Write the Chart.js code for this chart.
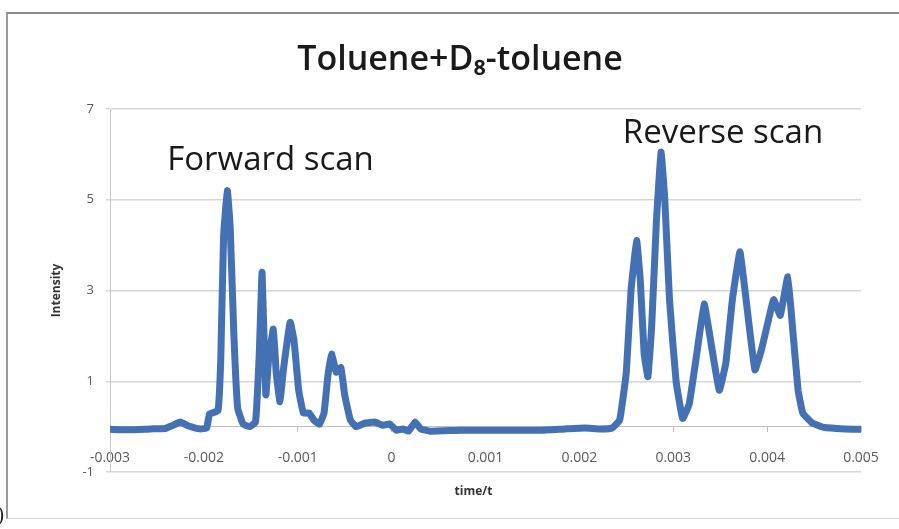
<!DOCTYPE html>
<html>
<head>
<meta charset="utf-8">
<script src="https://cdn.jsdelivr.net/npm/chart.js@4.4.1/dist/chart.umd.min.js"></script>
<style>
  html, body { margin: 0; padding: 0; background: #fff; }
  #wrap { position: relative; width: 899px; height: 529px; }
  #frame {
    position: absolute; left: 6px; top: 12px; width: 900px; height: 504px;
    border-top: 2px solid #8a8a8a; border-left: 2px solid #9a9a9a;
    border-bottom: 1px solid #d8d8d8; pointer-events: none;
  }
  #paren { position: absolute; left: -3px; top: 503px; font: 20px "DejaVu Serif"; color: #222; }
</style>
</head>
<body>
<div id="wrap">
  <canvas id="myChart" width="899" height="529"></canvas>
  <div id="frame"></div>
  <div id="paren">)</div>
</div>
<script>
// time (s) and intensity
const timeValues = [
  -0.003, -0.00279, -0.00257, -0.00241, -0.00234, -0.00225, -0.00217, -0.00204, -0.00197, -0.00194,
  -0.00185, -0.00182, -0.00179, -0.00175, -0.00172, -0.00168, -0.00164, -0.00158, -0.00151, -0.00145,
  -0.00141, -0.00138, -0.00134, -0.00131, -0.00126, -0.00123, -0.00119, -0.00115, -0.00108, -0.00104,
  -0.00099, -0.00094, -0.00088, -0.00083, -0.00077, -0.00072, -0.00068, -0.00064, -0.00059, -0.00054,
  -0.0005, -0.00044, -0.00038, -0.00028, -0.00018, -0.00009, -0.00002, 0.00005, 0.00012, 0.00018,
  0.00025, 0.00031, 0.00041, 0.00073, 0.00115, 0.00158, 0.00185, 0.00206, 0.00222, 0.00235,
  0.00243, 0.0025, 0.00255, 0.00261, 0.00265, 0.00269, 0.00273, 0.00277, 0.00282, 0.00287,
  0.00291, 0.00296, 0.00303, 0.0031, 0.00317, 0.00325, 0.00333, 0.00339, 0.00349, 0.00356,
  0.00363, 0.00371, 0.00377, 0.00387, 0.00394, 0.00402, 0.00407, 0.00414, 0.00422, 0.00427,
  0.00433, 0.00438, 0.00448, 0.00461, 0.00483, 0.005
];
const intensityValues = [
  -0.06, -0.07, -0.05, -0.04, 0.02, 0.1, 0.02, -0.05, -0.03, 0.28,
  0.35, 1.5, 4.2, 5.2, 4.4, 2.0, 0.4, 0.05, 0.0, 0.1,
  1.6, 3.4, 0.7, 1.5, 2.15, 1.2, 0.55, 1.3, 2.3, 1.9,
  0.8, 0.3, 0.3, 0.15, 0.05, 0.3, 1.1, 1.6, 1.2, 1.3,
  0.7, 0.15, 0.0, 0.08, 0.1, 0.03, 0.06, -0.08, -0.05, -0.1,
  0.1, -0.05, -0.1, -0.08, -0.08, -0.08, -0.05, -0.03, -0.05, -0.03,
  0.15, 1.2, 3.0, 4.1, 3.2, 1.6, 1.1, 2.2, 4.5, 6.05,
  5.0, 2.8, 1.0, 0.18, 0.5, 1.6, 2.7, 2.0, 0.8, 1.4,
  2.8, 3.85, 2.9, 1.25, 1.7, 2.4, 2.8, 2.45, 3.3, 2.2,
  0.8, 0.3, 0.08, -0.02, -0.05, -0.06
];
const xTicks = [-0.003, -0.002, -0.001, 0, 0.001, 0.002, 0.003, 0.004, 0.005];
const yTicks = [-1, 1, 3, 5, 7];

const chartTitle = 'Toluene+D\u2088-toluene';
const xTitle = 'time/t';
const yTitle = 'Intensity';
// annotation labels, placed at data coordinates
const notes = [
  { text: 'Forward scan', x: -0.00129, y: 5.87 },
  { text: 'Reverse scan', x: 0.00353, y: 6.46 }
];

const textPlugin = {
  id: 'texts',
  afterDraw(chart) {
    const ctx = chart.ctx;
    const area = chart.chartArea;
    const xs = chart.scales.x, ys = chart.scales.y;
    ctx.save();
    ctx.fillStyle = '#1a1a1a';
    ctx.textAlign = 'center';
    ctx.textBaseline = 'middle';

    ctx.font = '600 34px "Open Sans"';
    ctx.fillText(chartTitle, 460, 60);

    ctx.font = '33px "Open Sans"';
    for (const n of notes) {
      ctx.fillText(n.text, xs.getPixelForValue(n.x), ys.getPixelForValue(n.y));
    }

    ctx.font = 'bold 12px "Open Sans"';
    ctx.fillStyle = '#333';
    ctx.fillText(xTitle, (area.left + area.right) / 2 - 12, area.bottom + 20);

    ctx.translate(57, (area.top + area.bottom) / 2);
    ctx.rotate(-Math.PI / 2);
    ctx.fillText(yTitle, 0, 0);
    ctx.restore();
  }
};

function createChart() {
  const ctx = document.getElementById('myChart').getContext('2d');
  const points = timeValues.map((t, i) => ({ x: t, y: intensityValues[i] }));

  new Chart(ctx, {
    type: 'scatter',
    data: {
      datasets: [{
        data: points,
        showLine: true,
        borderColor: '#4470b4',
        borderWidth: 7,
        borderJoinStyle: 'round',
        borderCapStyle: 'round',
        pointRadius: 0,
        tension: 0.1
      }]
    },
    options: {
      responsive: false,
      animation: false,
      layout: { padding: { left: 30, right: 38, top: 109, bottom: 57 } },
      plugins: {
        legend: { display: false },
        tooltip: { enabled: false }
      },
      scales: {
        x: {
          type: 'linear',
          position: { y: 0 },
          min: -0.003,
          max: 0.005,
          afterBuildTicks(scale) { scale.ticks = xTicks.map(v => ({ value: v })); },
          grid: { drawOnChartArea: false, color: '#bfbfbf', tickLength: 5 },
          border: { color: '#bfbfbf' },
          ticks: {
            padding: 18,
            maxRotation: 0,
            color: '#595959',
            font: { family: 'Open Sans', size: 14 },
            callback: v => String(Number(v.toFixed(3)))
          }
        },
        y: {
          min: -1,
          max: 7,
          afterBuildTicks(scale) { scale.ticks = yTicks.map(v => ({ value: v })); },
          afterFit(scale) { scale.width = 80; },
          grid: { color: '#d6d6d6', lineWidth: 1.5, tickLength: 4 },
          border: { color: '#c8c8c8' },
          ticks: {
            padding: 12,
            color: '#595959',
            font: { family: 'Open Sans', size: 13 }
          }
        }
      }
    },
    plugins: [textPlugin]
  });
}

document.addEventListener('DOMContentLoaded', createChart);
</script>
</body>
</html>
